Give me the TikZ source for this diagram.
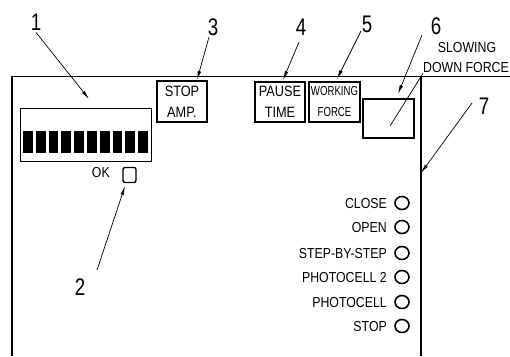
\documentclass[tikz,border=0pt]{standalone}
\usepackage{fontspec}
\setmainfont{Liberation Sans}
\newfontfamily\narrowfont[FakeStretch=0.85]{Liberation Sans}
\newfontfamily\narrowerfont[FakeStretch=0.74]{Liberation Sans}
\newfontfamily\numfont[FakeStretch=0.78]{Liberation Sans}
\usetikzlibrary{arrows.meta,shapes.geometric}
\begin{document}
\begin{tikzpicture}[x=1pt,y=-1pt,
  frame/.style={line width=1.4pt},
  box/.style={draw,line width=1.3pt,inner sep=0pt},
  lead/.style={line width=0.7pt},
  leadarrow/.style={lead,-{Latex[length=9pt,width=3.5pt]}},
  num/.style={font=\numfont\fontsize{24}{24}\selectfont,inner sep=0pt},
  lab/.style={font=\narrowfont\fontsize{14.5}{14.5}\selectfont,inner sep=0pt,anchor=base east},
  boxtext/.style={font=\narrowfont\fontsize{15}{21}\selectfont,align=center,inner sep=0pt},
  btn/.style={draw,line width=1.6pt,ellipse,minimum width=14pt,minimum height=13pt,inner sep=0pt}
]
\useasboundingbox (0,0) rectangle (510,356);
\clip (0,0) rectangle (510,356);
% frame
\draw[frame] (12,356) -- (12,76.5) -- (510,76.5);
\draw[frame] (421,76.5) -- (421,356);
% display
\node[box,minimum width=131pt,minimum height=53pt,anchor=north west] (disp) at (20,108) {};
\foreach \i in {0,...,9}{
  \fill ({23+12.8*\i},131) rectangle ++(9.8,22);
}
% OK button
\node[lab] (oktxt) at (110,177) {OK};
\node[draw,line width=1.4pt,rounded corners=2pt,minimum width=13pt,minimum height=15pt,inner sep=0pt] (okbtn) at (129.5,175) {};
% top boxes
\node[box,minimum width=50pt,minimum height=41pt] (stopamp) at (182,101.5) {};
\node[boxtext] (stopamptxt) at (182,102) {STOP\\AMP.};
\node[box,minimum width=50pt,minimum height=40pt] (pause) at (280,102) {};
\node[boxtext] (pausetxt) at (280,102) {PAUSE\\TIME};
\node[box,minimum width=51pt,minimum height=40pt] (working) at (334.5,102) {};
\node[boxtext,font=\narrowerfont\fontsize{13}{21}\selectfont] (workingtxt) at (334.5,102) {WORKING\\FORCE};
\node[box,minimum width=51pt,minimum height=39pt] (slow) at (388.5,118.5) {};
\coordinate (slowin) at (390,126);
\node[font=\narrowfont\fontsize{14.5}{14.5}\selectfont,inner sep=0pt] (slowing) at (467,48) {SLOWING};
\node[font=\narrowfont\fontsize{14.5}{14.5}\selectfont,inner sep=0pt,anchor=west] (downforce) at (423,68) {DOWN FORCE};
\draw[lead] (downforce.south west) -- (slowin);
% buttons
\foreach \n/\t/\y in {close/CLOSE/203,open/OPEN/227,step/STEP-BY-STEP/253,photoB/PHOTOCELL 2/277,photoA/PHOTOCELL/302,stop/STOP/326}{
  \node[lab] (\n txt) at (387,\y+5.3) {\t};
  \node[btn] (\n btn) at (402,\y) {};
}
% numbers and leaders
\node[num] (n1) at (36,22) {1};
\coordinate (t1) at (89,99);
\draw[leadarrow] (n1.south) ++(0,2) -- (t1);
\node[num] (n2) at (80,287) {2};
\coordinate (t2) at (125,186);
\draw[leadarrow] (97,270) -- (t2);
\node[num] (n3) at (213,27) {3};
\coordinate (t3) at (197,80);
\draw[leadarrow] (209,37) -- (t3);
\node[num] (n4) at (301,27) {4};
\coordinate (t4) at (283,80);
\draw[leadarrow] (299,42) -- (t4);
\node[num] (n5) at (367,24) {5};
\coordinate (t5) at (337,79);
\draw[leadarrow] (361,31) -- (t5);
\node[num] (n6) at (436,26) {6};
\coordinate (t6) at (398,94);
\draw[leadarrow] (422,35) -- (t6);
\node[num] (n7) at (484,106) {7};
\coordinate (t7) at (421,173);
\draw[leadarrow] (472,103) -- (t7);
\end{tikzpicture}
\end{document}
